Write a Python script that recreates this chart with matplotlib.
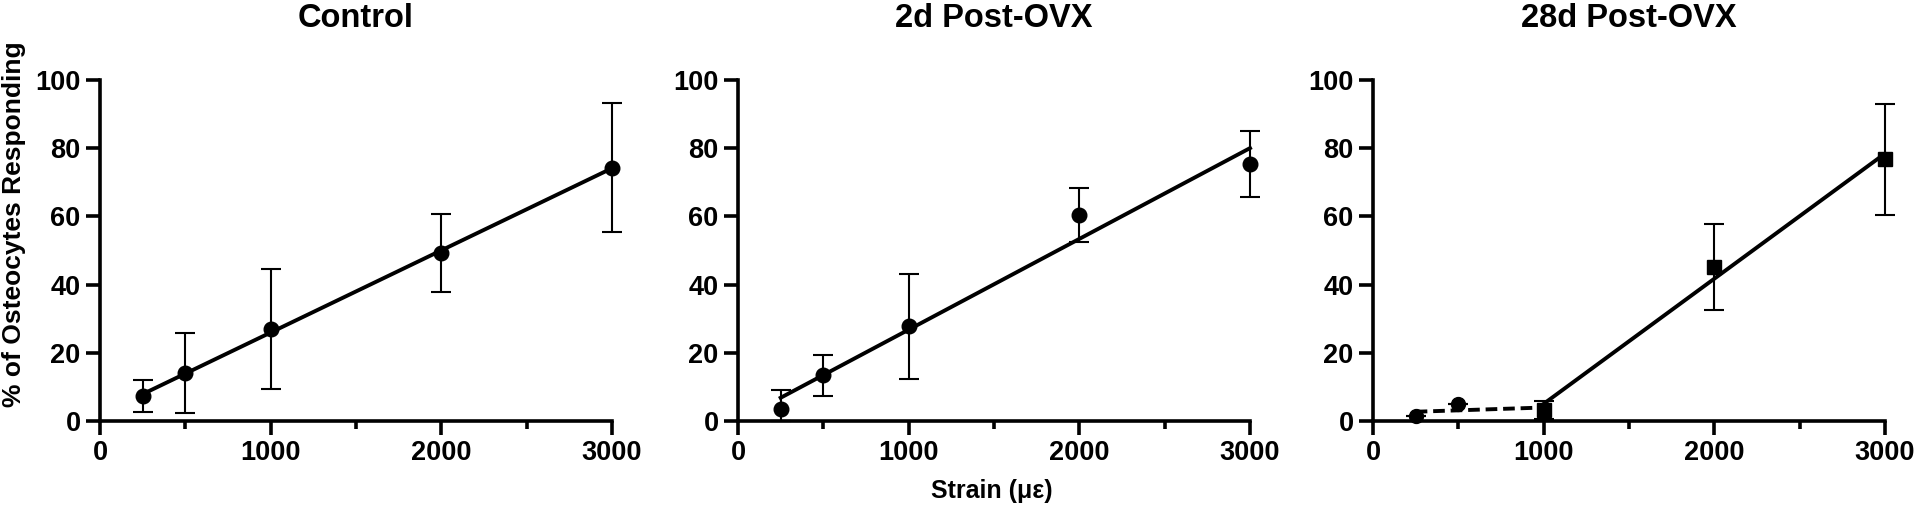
import numpy as np
import matplotlib
matplotlib.use('Agg')
from matplotlib import pyplot as plt
from matplotlib.ticker import MultipleLocator

plt.rcParams['font.family'] = ['Liberation Sans', 'DejaVu Sans']
plt.rcParams['font.weight'] = 'bold'

# strain levels (microstrain)
strain = [250, 500, 1000, 2000, 3000]

# mean % responding and error (SD)
control_mean = [7.3, 14.0, 27.0, 49.3, 74.3]
control_err = [4.6, 11.8, 17.5, 11.4, 19.0]

ovx2_mean = [3.6, 13.4, 27.8, 60.4, 75.3]
ovx2_err = [5.4, 6.0, 15.4, 7.8, 9.6]

# 28d: low strains (circles, dashed fit) and high strains (squares, solid fit)
ovx28_low_x = [250, 500]
ovx28_low_mean = [1.4, 5.1]
ovx28_low_err = [0.0, 0.0]
ovx28_high_x = [1000, 2000, 3000]
ovx28_high_mean = [3.3, 45.2, 76.7]
ovx28_high_err = [2.7, 12.7, 16.4]

titles = ['Control', '2d Post-OVX', '28d Post-OVX']

fig = plt.figure(figsize=(19.2, 5.16), dpi=100)
lefts = [100 / 1920, 738 / 1920, 1373 / 1920]
axes = [fig.add_axes([l, 95 / 516, 512 / 1920, 341 / 516]) for l in lefts]


def errbars(ax, x, m, e, marker, ms):
    m = np.array(m)
    e = np.array(e)
    lo = np.minimum(e, m)
    ax.errorbar(x, m, yerr=[lo, e], fmt=marker, color='black', ms=ms,
                elinewidth=1.5, capsize=7, capthick=1.5, clip_on=False, zorder=3)


def fit_line(ax, x, y, x0, x1, ls='-'):
    k, b = np.polyfit(x, y, 1)
    xs = np.array([x0, x1])
    ax.plot(xs, k * xs + b, color='black', lw=2.8, ls=ls, clip_on=False, zorder=2)


# Control
errbars(axes[0], strain, control_mean, control_err, 'o', 10.5)
fit_line(axes[0], strain, control_mean, strain[0], strain[-1])

# 2d Post-OVX
errbars(axes[1], strain, ovx2_mean, ovx2_err, 'o', 10.5)
fit_line(axes[1], strain, ovx2_mean, strain[0], strain[-1])

# 28d Post-OVX
errbars(axes[2], ovx28_low_x, ovx28_low_mean, ovx28_low_err, 'o', 10)
errbars(axes[2], ovx28_high_x, ovx28_high_mean, ovx28_high_err, 's', 10)
fit_line(axes[2], ovx28_low_x + ovx28_high_x[:1], ovx28_low_mean + ovx28_high_mean[:1],
         ovx28_low_x[0], ovx28_high_x[0], ls=(0, (3, 1.5)))
fit_line(axes[2], ovx28_high_x, ovx28_high_mean, ovx28_high_x[0], ovx28_high_x[-1])

for ax, t in zip(axes, titles):
    ax.set_xlim(0, 3000)
    ax.set_ylim(0, 100)
    ax.set_xticks([0, 1000, 2000, 3000])
    ax.xaxis.set_minor_locator(MultipleLocator(500))
    ax.set_yticks([0, 20, 40, 60, 80, 100])
    for s in ['top', 'right']:
        ax.spines[s].set_visible(False)
    for s in ['left', 'bottom']:
        ax.spines[s].set_linewidth(2.6)
    ax.tick_params(which='major', direction='out', length=10, width=2.6, pad=4,
                   labelsize=19.5)
    ax.tick_params(axis='x', which='minor', direction='out', length=6, width=2.6)
    ax.text(0.5, 1.179, t, transform=ax.transAxes, ha='center', va='center',
            fontsize=23.5, fontweight='bold')

fig.text(14 / 1920, (516 - 224) / 516, '% of Osteocytes Responding', rotation=90,
         ha='center', va='center', fontsize=19, fontweight='bold')
fig.text(992 / 1920, (516 - 491) / 516, 'Strain (\u03bc\u03b5)',
         ha='center', va='center', fontsize=18, fontweight='bold')

fig.savefig('out.png', dpi=100)
